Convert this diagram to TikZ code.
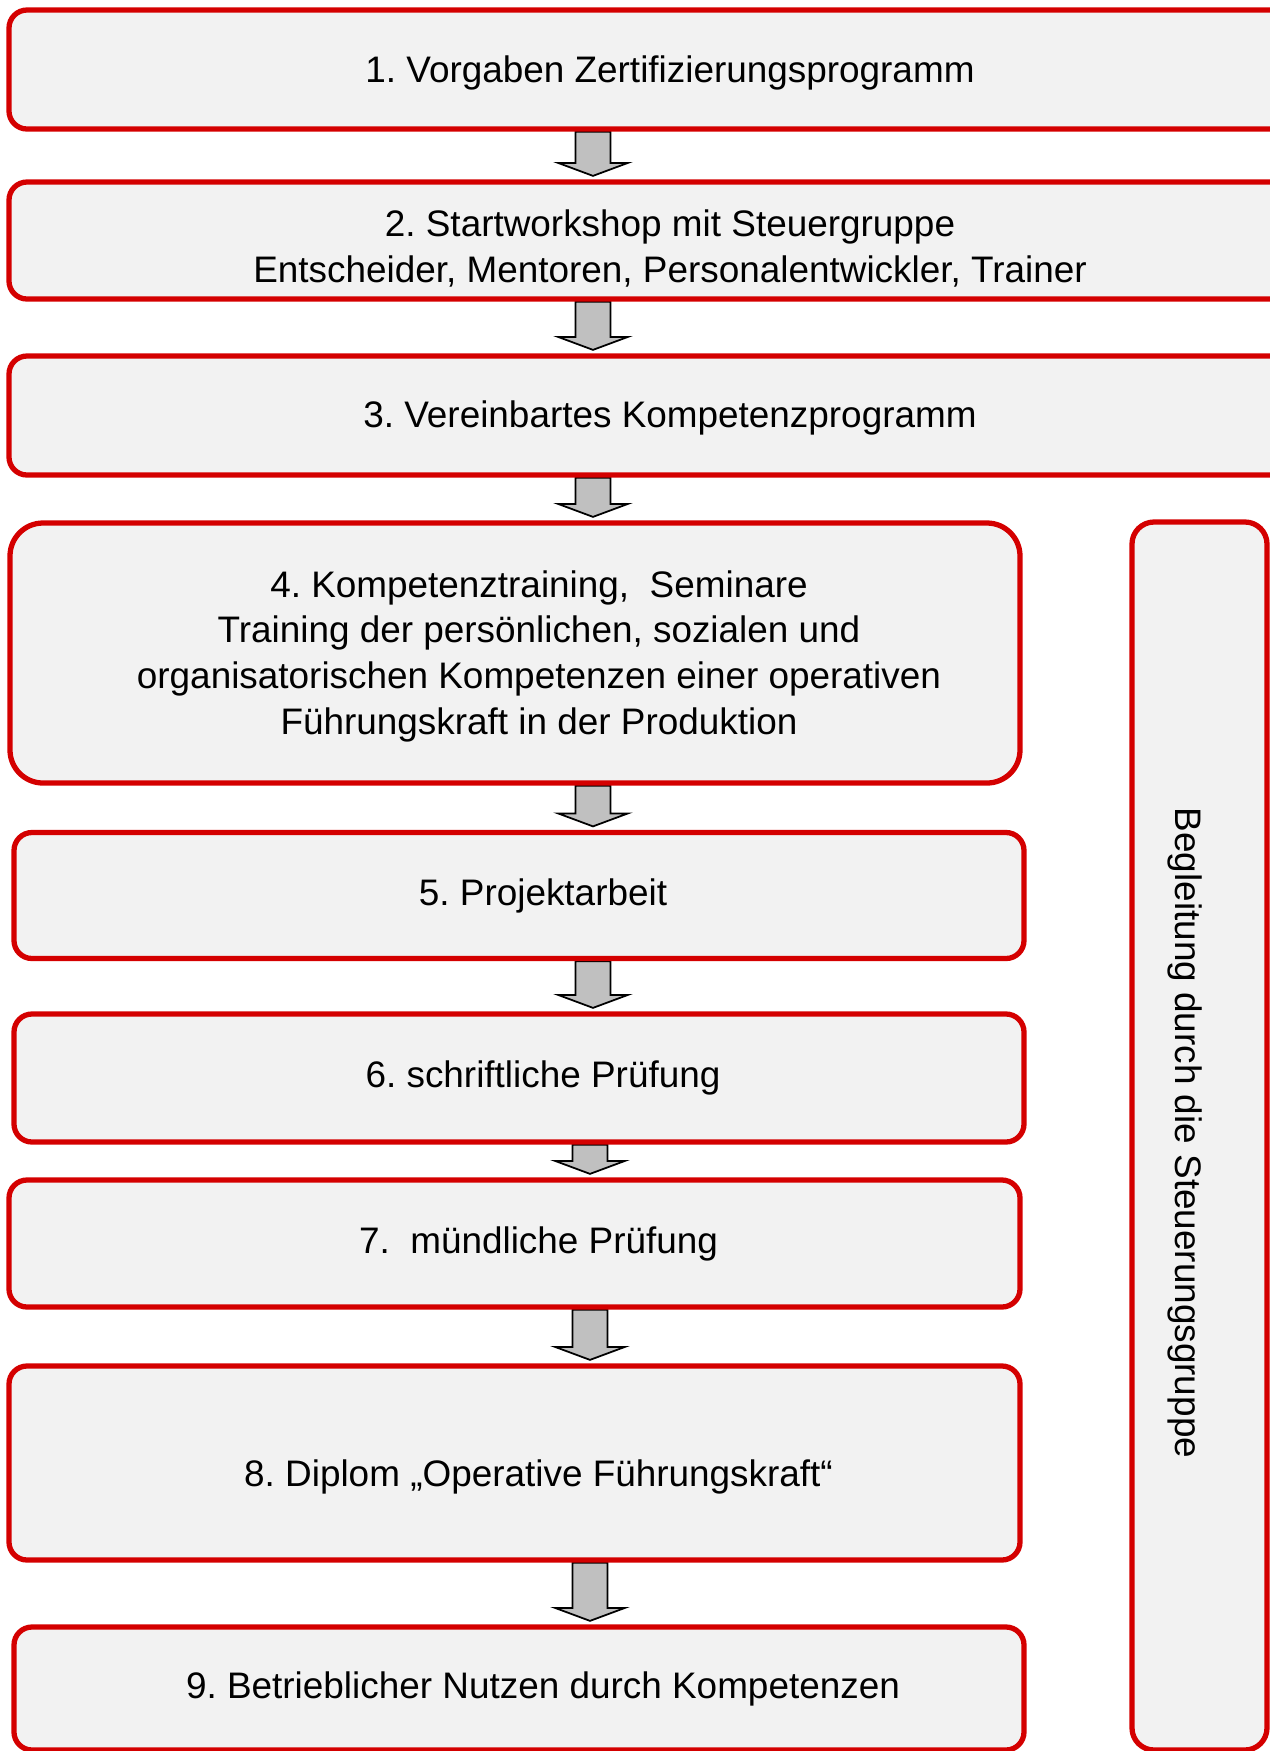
\documentclass[tikz,border=0pt]{standalone}
\usepackage{fontspec}
\setmainfont{Liberation Sans}
\usetikzlibrary{calc,backgrounds}
\definecolor{stagered}{RGB}{212,0,0}
\definecolor{stagefill}{RGB}{242,242,242}
\definecolor{flowgrey}{RGB}{192,192,192}
\frenchspacing

\begin{document}
\begin{tikzpicture}[y=-1cm, font=\fontsize{10.5}{13}\selectfont,
  stage/.style={draw=stagered, fill=stagefill, line width=1.5pt, rounded corners=0.18cm, inner sep=0pt},
  txt/.style={align=center, inner sep=0pt},
  flow/.style={draw=black, fill=flowgrey, line width=0.5pt, line join=miter,
    to path={let \p1=(\tikztostart), \p2=(\tikztotarget) in
      (\x1-0.175cm,\y1) -- (\x1+0.175cm,\y1) -- (\x1+0.175cm,\y2+0.165cm) -- (\x1+0.35cm,\y2+0.165cm)
      -- (\x1,\y2+0.035cm) -- (\x1-0.35cm,\y2+0.165cm) -- (\x1-0.175cm,\y2+0.165cm) -- cycle}}]
  \useasboundingbox (0,0) rectangle (12.70,17.51);
  \clip (0,0) rectangle (12.70,17.51);

  \node[stage, minimum width=13.22cm, minimum height=1.19cm] (b1) at (6.70,0.695) {};
  \node[stage, minimum width=13.22cm, minimum height=1.17cm] (b2) at (6.70,2.405) {};
  \node[stage, minimum width=13.22cm, minimum height=1.19cm] (b3) at (6.70,4.155) {};
  \node[stage, rounded corners=0.33cm, minimum width=10.10cm, minimum height=2.60cm] (b4) at (5.15,6.53) {};
  \node[stage, minimum width=10.10cm, minimum height=1.26cm] (b5) at (5.19,8.955) {};
  \node[stage, minimum width=10.10cm, minimum height=1.28cm] (b6) at (5.19,10.78) {};
  \node[stage, minimum width=10.11cm, minimum height=1.27cm] (b7) at (5.145,12.435) {};
  \node[stage, minimum width=10.11cm, minimum height=1.94cm] (b8) at (5.145,14.63) {};
  \node[stage, minimum width=10.10cm, minimum height=1.23cm] (b9) at (5.19,16.885) {};
  \node[stage, rounded corners=0.22cm, minimum width=1.35cm, minimum height=12.28cm] (side) at (11.995,11.36) {};

  \node[txt] (t1) at ($(b1.center)+(0,0.03)$) {1. Vorgaben Zertifizierungsprogramm};
  \node[txt] (t2) at ($(b2.center)+(0,0.08)$) {2. Startworkshop mit Steuergruppe\\Entscheider, Mentoren, Personalentwickler, Trainer};
  \node[txt] (t3) at ($(b3.center)+(0,0.02)$) {3. Vereinbartes Kompetenzprogramm};
  \node[txt] (t4) at ($(b4.center)+(0.24,0.03)$) {4. Kompetenztraining,\ \ Seminare\\Training der persönlichen, sozialen und\\organisatorischen Kompetenzen einer operativen\\Führungskraft in der Produktion};
  \node[txt] (t5) at ($(b5.center)+(0.24,0)$) {5. Projektarbeit};
  \node[txt] (t6) at ($(b6.center)+(0.24,0)$) {6. schriftliche Prüfung};
  \node[txt] (t7) at ($(b7.center)+(0.24,0)$) {7.\ \ mündliche Prüfung};
  \node[txt] (t8) at ($(b8.center)+(0.24,0.14)$) {8. Diplom „Operative Führungskraft“};
  \node[txt] (t9) at ($(b9.center)+(0.24,0)$) {9. Betrieblicher Nutzen durch Kompetenzen};
  \node[txt, rotate=-90] (tside) at (11.85,11.33) {Begleitung durch die Steuerungsgruppe};

  \coordinate (axis) at (5.93,0);
  \begin{scope}[on background layer]
    \draw[flow] (b1.south -| axis) to (b2.north -| axis);
    \draw[flow] (b2.south -| axis) to (b3.north -| axis);
    \draw[flow] (b3.south -| axis) to (b4.north -| axis);
    \draw[flow] (b4.south -| axis) to (b5.north -| axis);
    \draw[flow] (b5.south -| axis) to (b6.north -| axis);
    \draw[flow] ([xshift=-0.03cm]b6.south -| axis) to (b7.north -| axis);
    \draw[flow] ([xshift=-0.03cm]b7.south -| axis) to (b8.north -| axis);
    \draw[flow] ([xshift=-0.03cm]b8.south -| axis) to (b9.north -| axis);
  \end{scope}
\end{tikzpicture}
\end{document}
